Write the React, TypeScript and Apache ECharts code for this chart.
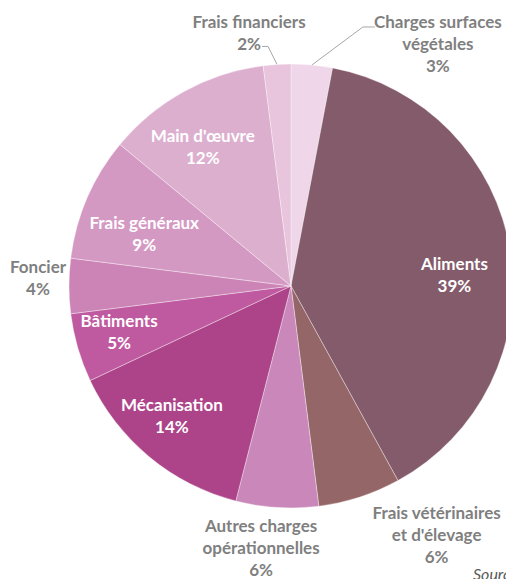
import React, { useEffect, useRef } from 'react';
import * as echarts from 'echarts';

const categories = [
  'Charges surfaces végétales',
  'Aliments',
  "Frais vétérinaires et d'élevage",
  'Autres charges opérationnelles',
  'Mécanisation',
  'Bâtiments',
  'Foncier',
  'Frais généraux',
  "Main d'œuvre",
  'Frais financiers',
];
const labelNames = [
  'Charges surfaces\nvégétales',
  'Aliments',
  "Frais vétérinaires\net d'élevage",
  'Autres charges\nopérationnelles',
  'Mécanisation',
  'Bâtiments',
  'Foncier',
  'Frais généraux',
  "Main d'œuvre",
  'Frais financiers',
];
const values = [3, 39, 6, 6, 14, 5, 4, 9, 12, 2];
const sourceText = 'Source : Agreste';

// styling / placement
const colors = ['#efd7e9', '#845b6b', '#946667', '#c987ba', '#ad4489', '#bf5aa0', '#cc84b7', '#d499c3', '#ddafcf', '#e8c4dd'];
const insideLabel = [false, true, false, false, true, true, false, true, true, false];
const labelFactor = [1, 0.75, 1, 1, 0.75, 0.75, 1, 0.75, 0.75, 1];
const labelNudge: [number, number][] = [
  [126, -21], [-1, 15], [77, 37], [-16, 40], [-13, 1], [-12, -1], [-31, -9], [6, 14], [-8, 6], [-28, -32],
];
const lineKnee: ([number, number][] | null)[] = [
  [[51, -38], [63, -38]], null, null, null, null, null, null, null, null, [[-9, -18], [-15, -18]],
];

const CX = 291;
const CY = 286;
const R = 222;
const FONT = 'Lato, "Open Sans", sans-serif';

export default function App() {
  const ref = useRef<HTMLDivElement>(null);
  useEffect(() => {
    if (!ref.current) return;
    const chart = echarts.init(ref.current, undefined, { renderer: 'svg' });
    const total = values.reduce((a, b) => a + b, 0);
    const midAngle = (i: number) => {
      let cum = 0;
      for (let k = 0; k < i; k++) cum += values[k];
      cum += values[i] / 2;
      return (cum / total) * Math.PI * 2;
    };
    const data = values.map((v, i) => ({
      name: categories[i],
      value: v,
      itemStyle: { color: colors[i] },
      label: {
        color: insideLabel[i] ? '#ffffff' : '#7f7f7f',
      },
      labelLine: {
        show: !!lineKnee[i],
        lineStyle: { color: '#a6a6a6', width: 1 },
      },
    }));
    chart.setOption({
      animation: false,
      backgroundColor: '#ffffff',
      graphic: [
        {
          type: 'text',
          left: 473,
          top: 565,
          style: {
            text: sourceText,
            fill: '#595959',
            font: 'italic 16px ' + FONT,
          },
        },
      ],
      series: [
        {
          type: 'pie',
          center: [CX, CY],
          radius: [0, R],
          startAngle: 90,
          clockwise: true,
          avoidLabelOverlap: false,
          silent: true,
          itemStyle: { borderColor: 'rgba(255,255,255,0.45)', borderWidth: 0.8 },
          label: {
            show: true,
            position: 'outside',
            formatter: (p: any) => `${labelNames[p.dataIndex]}\n${p.value}%`,
            fontFamily: FONT,
            fontWeight: 'bold',
            fontSize: 17,
            lineHeight: 22,
            align: 'center',
          },
          labelLine: { show: false, length: 0, length2: 0 },
          labelLayout: (params: any) => {
            const i = params.dataIndex;
            const a = midAngle(i);
            const f = labelFactor[i];
            const x = CX + f * R * Math.sin(a) + labelNudge[i][0];
            const y = CY - f * R * Math.cos(a) + labelNudge[i][1];
            const res: any = { x, y, align: 'center', verticalAlign: 'middle' };
            const knee = lineKnee[i];
            if (knee) {
              const ex = CX + R * Math.sin(a);
              const ey = CY - R * Math.cos(a);
              res.labelLinePoints = [
                [ex, ey],
                [ex + knee[0][0], ey + knee[0][1]],
                [ex + knee[1][0], ey + knee[1][1]],
              ];
            }
            return res;
          },
          data,
        },
      ],
    });
    return () => chart.dispose();
  }, []);
  return (
    <div
      ref={ref}
      style={{ position: 'fixed', left: 0, top: 0, width: 506, height: 579, overflow: 'hidden' }}
    />
  );
}
